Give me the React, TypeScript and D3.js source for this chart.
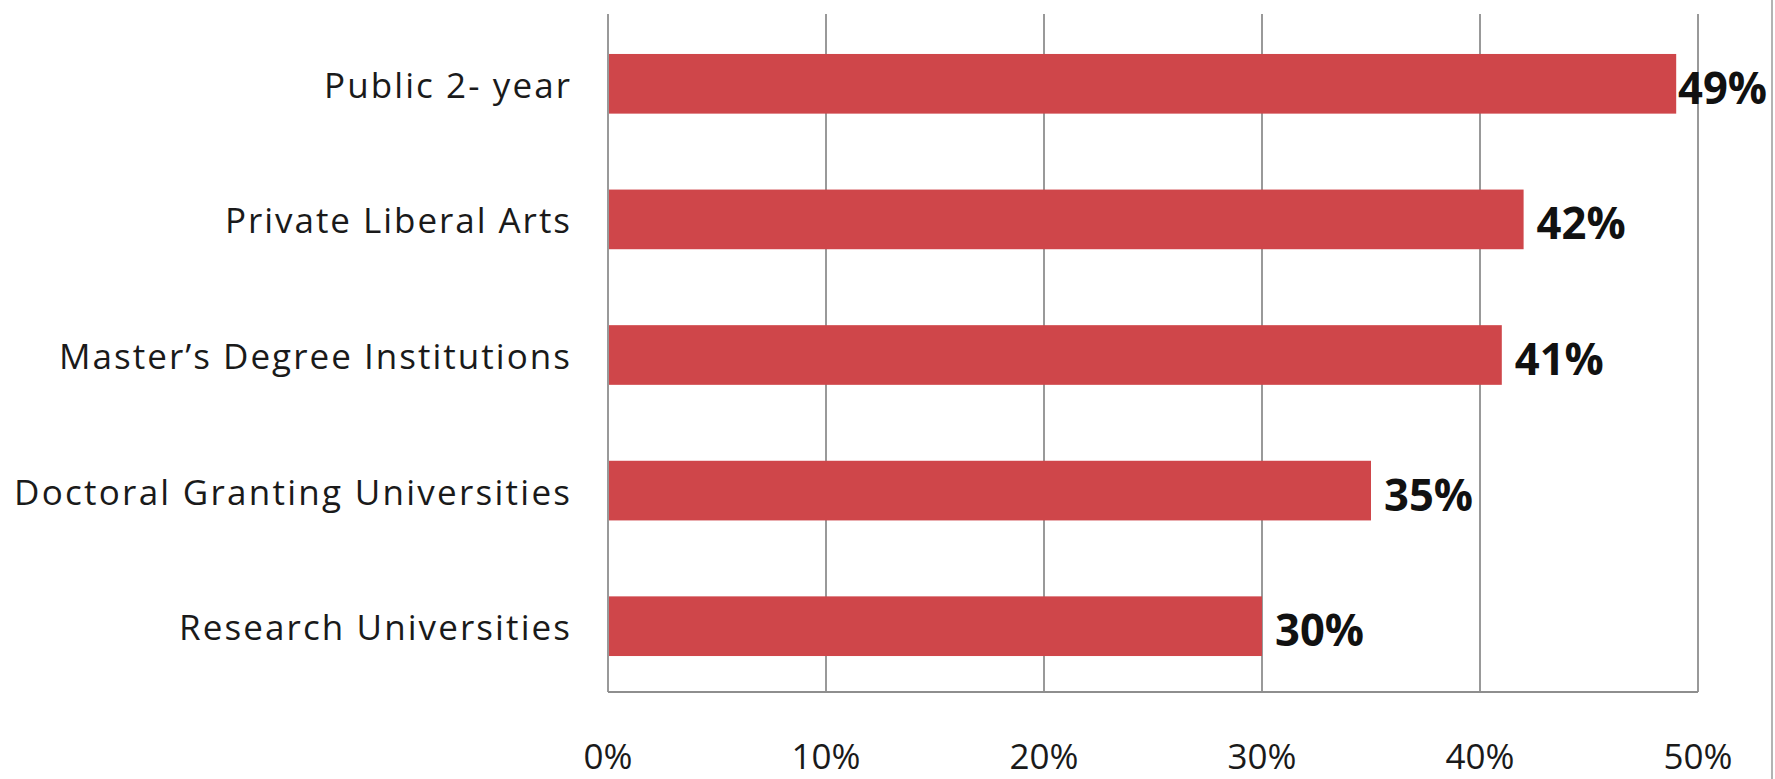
import React from "react";
import * as d3 from "d3";

const categories = [
  "Public 2- year",
  "Private Liberal Arts",
  "Master\u2019s Degree Institutions",
  "Doctoral Granting Universities",
  "Research Universities",
];
const values = [49, 42, 41, 35, 30];
const ticks = [0, 10, 20, 30, 40, 50];
const labelWidths = [246, 345, 511, 556, 391];

const W = 1775;
const H = 779;
const left = 608;
const right = 1698;
const top = 14;
const bottom = 692;
const valueLabelW = 89;

export default function App() {
  const x = d3.scaleLinear().domain([0, 50]).range([left, right]);
  const y = d3
    .scaleBand<string>()
    .domain(categories)
    .range([top + 2, bottom + 2])
    .paddingInner(0.56)
    .paddingOuter(0.28);
  const font = "'Open Sans', 'DejaVu Sans', sans-serif";
  const grid = "#8e8e8e";
  return (
    <svg
      width={W}
      height={H}
      style={{ position: "absolute", left: 0, top: 0, background: "#fff" }}
    >
      <rect x={0} y={0} width={W} height={H} fill="#fff" />
      {ticks.map((t) => (
        <line
          key={"g" + t}
          x1={x(t)}
          x2={x(t)}
          y1={top}
          y2={bottom}
          stroke={grid}
          strokeWidth={1.8}
        />
      ))}
      <line x1={left} x2={right} y1={bottom} y2={bottom} stroke={grid} strokeWidth={2} />
      <line x1={1772} x2={1772} y1={0} y2={H} stroke="#9a9a9a" strokeWidth={1.5} />
      {categories.map((c, i) => {
        const yc = (y(c) as number) + y.bandwidth() / 2;
        const lx = Math.min(x(values[i]) + 13, W - 8 - valueLabelW);
        return (
          <g key={c}>
            <rect
              x={x(0) + 1}
              y={y(c)}
              width={x(values[i]) - x(0) - 1}
              height={y.bandwidth()}
              fill="#cf464a"
            />
            <text
              x={570}
              y={yc + 14}
              textAnchor="end"
              fontFamily={font}
              fontSize={35}
              fill="#1a1a1a"
              textLength={labelWidths[i]}
              lengthAdjust="spacing"
            >
              {c}
            </text>
            <text
              x={lx}
              y={yc + 20}
              fontFamily={font}
              fontWeight="bold"
              fontSize={45}
              fill="#111"
              textLength={valueLabelW}
              lengthAdjust="spacingAndGlyphs"
            >
              {values[i] + "%"}
            </text>
          </g>
        );
      })}
      {ticks.map((t) => (
        <text
          key={"t" + t}
          x={x(t)}
          y={769}
          textAnchor="middle"
          fontFamily={font}
          fontSize={35}
          fill="#1a1a1a"
        >
          {t + "%"}
        </text>
      ))}
    </svg>
  );
}
